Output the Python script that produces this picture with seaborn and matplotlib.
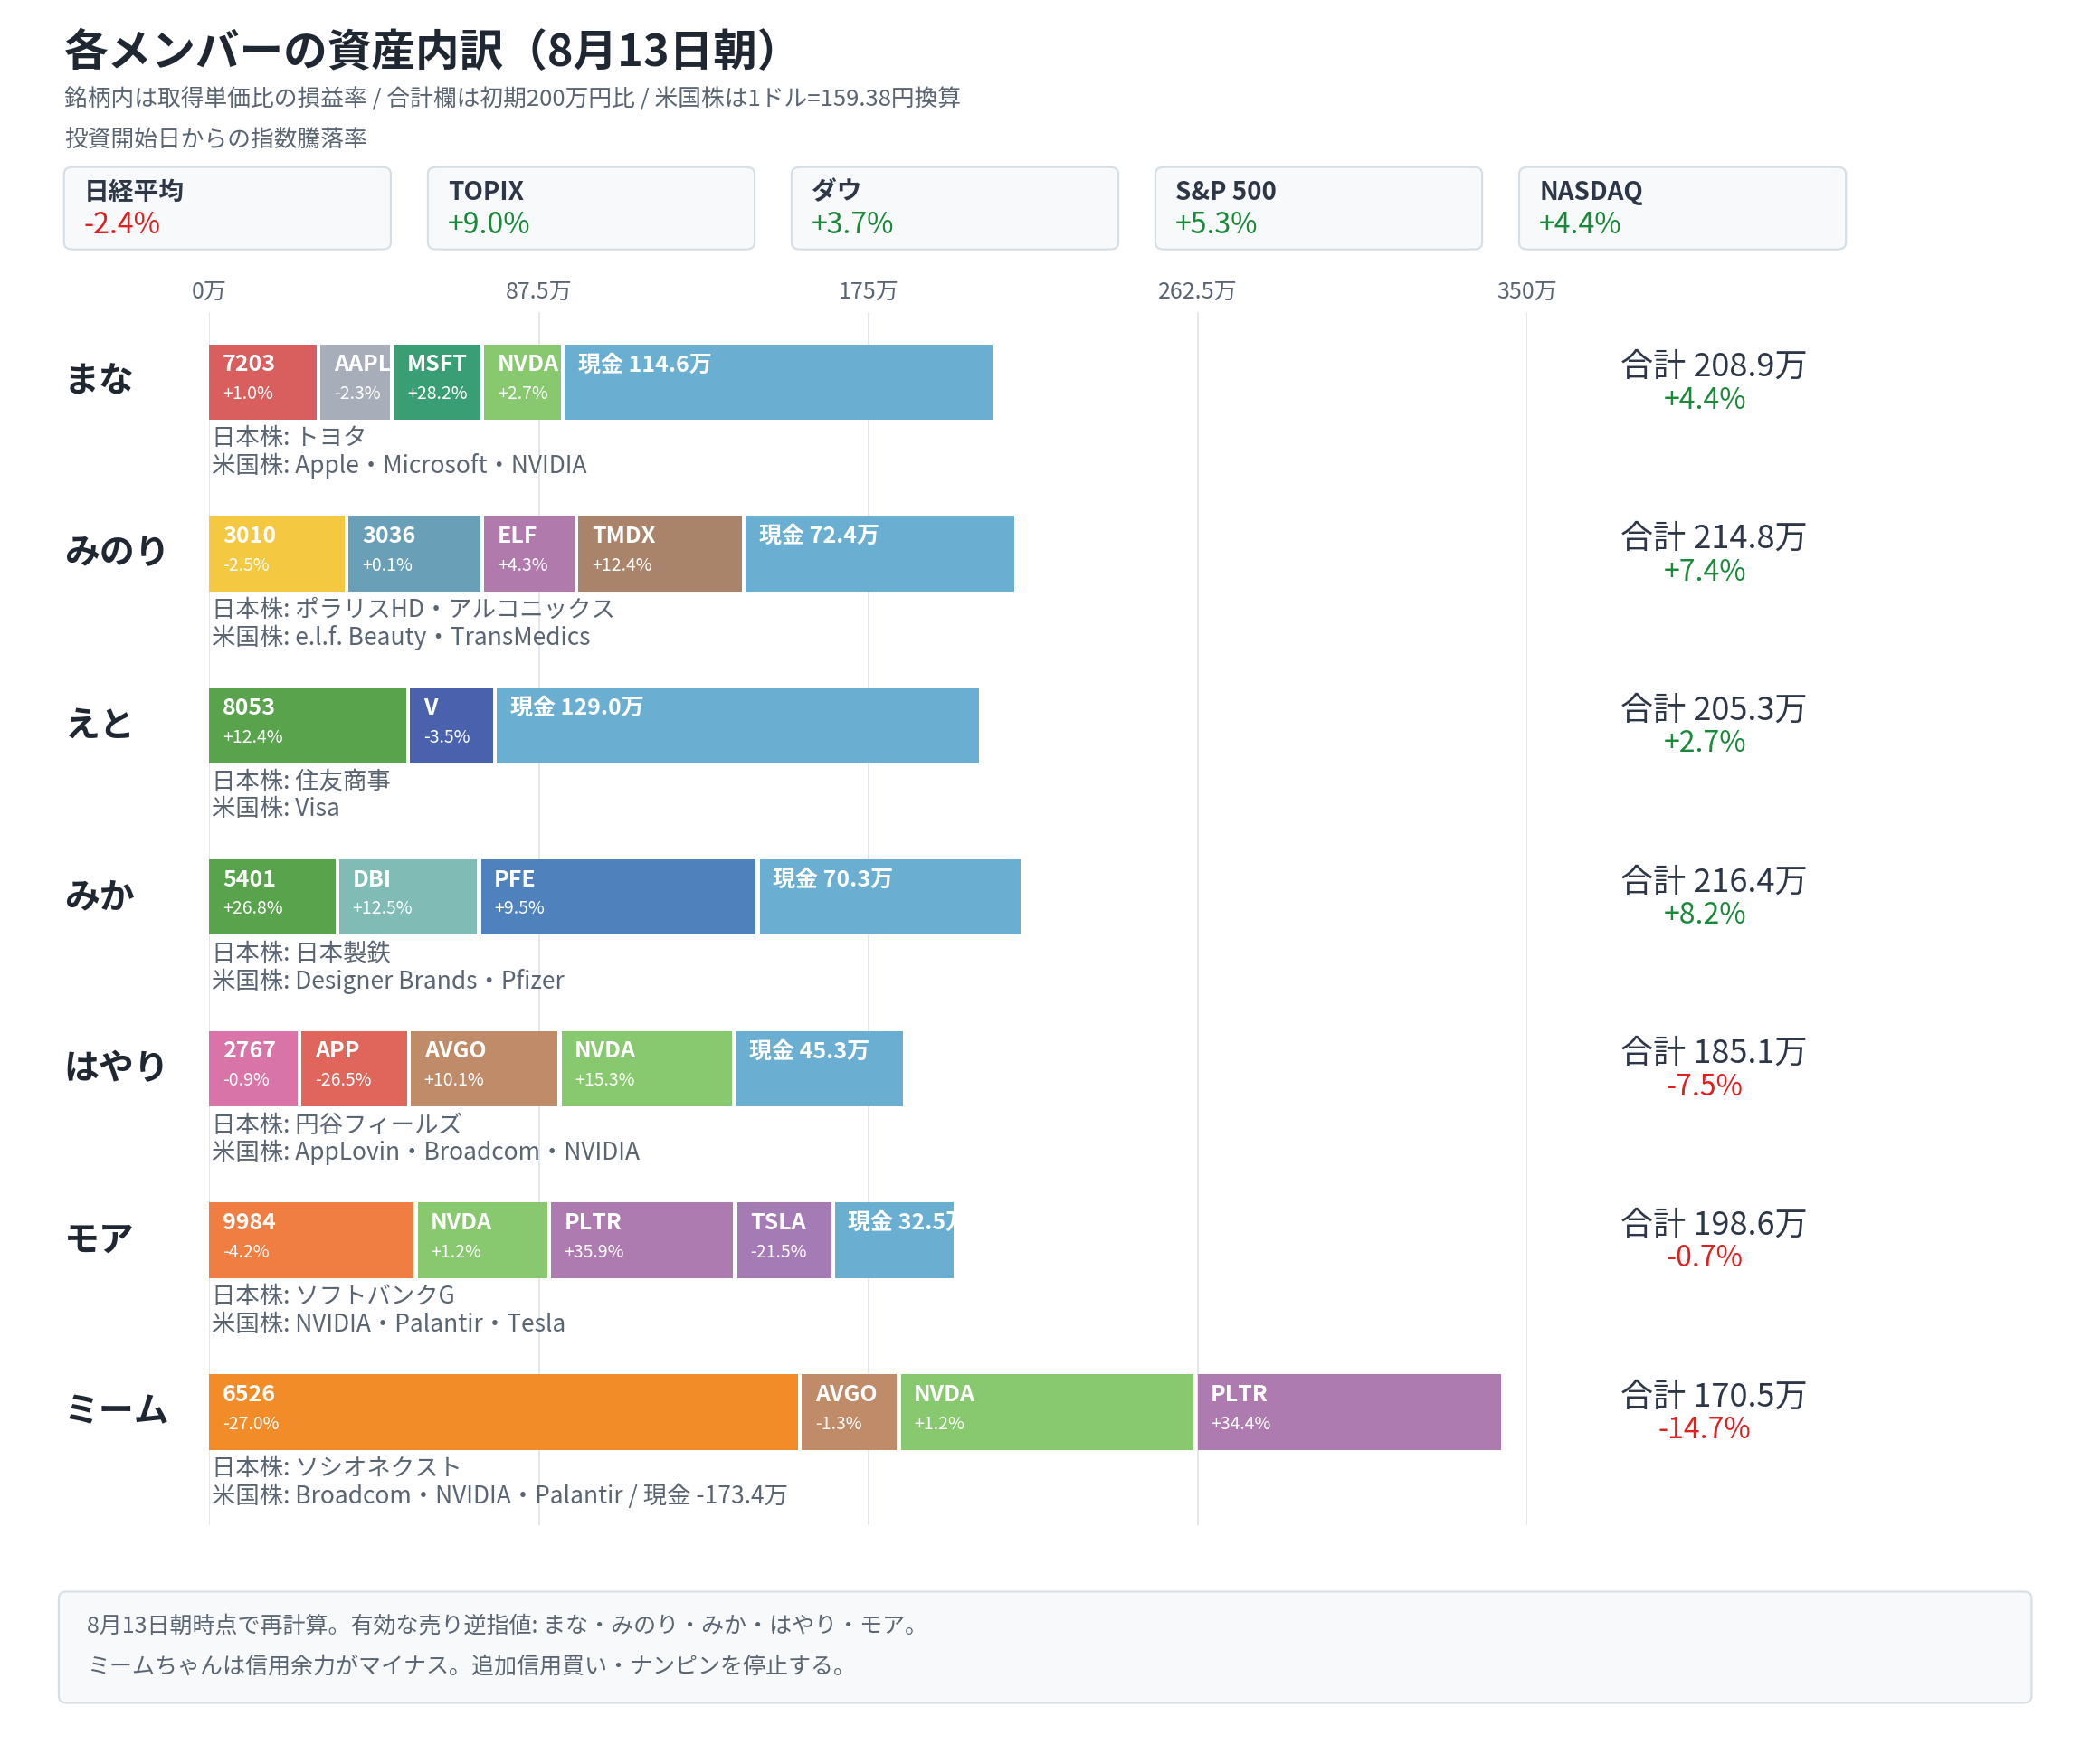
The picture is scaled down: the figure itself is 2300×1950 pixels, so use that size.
import matplotlib
matplotlib.use("Agg")
import matplotlib.pyplot as plt
import seaborn as sns
from matplotlib.patches import FancyBboxPatch

sns.set_theme(style="white")
plt.rcParams['font.family'] = ['Noto Sans CJK JP', 'DejaVu Sans']

# ---- data ----
members = ['まな', 'みのり', 'えと', 'みか', 'はやり', 'モア', 'ミーム']
tickers = [
    ['7203', 'AAPL', 'MSFT', 'NVDA'],
    ['3010', '3036', 'ELF', 'TMDX'],
    ['8053', 'V'],
    ['5401', 'DBI', 'PFE'],
    ['2767', 'APP', 'AVGO', 'NVDA'],
    ['9984', 'NVDA', 'PLTR', 'TSLA'],
    ['6526', 'AVGO', 'NVDA', 'PLTR'],
]
values = [
    [29.5, 19.5, 24.0, 21.3],
    [37.0, 36.0, 25.0, 44.4],
    [53.3, 23.0],
    [34.5, 37.6, 74.0],
    [24.5, 29.0, 40.0, 46.3],
    [55.3, 35.4, 49.4, 26.0],
    [157.3, 26.3, 78.8, 81.5],
]
pcts = [
    ['+1.0%', '-2.3%', '+28.2%', '+2.7%'],
    ['-2.5%', '+0.1%', '+4.3%', '+12.4%'],
    ['+12.4%', '-3.5%'],
    ['+26.8%', '+12.5%', '+9.5%'],
    ['-0.9%', '-26.5%', '+10.1%', '+15.3%'],
    ['-4.2%', '+1.2%', '+35.9%', '-21.5%'],
    ['-27.0%', '-1.3%', '+1.2%', '+34.4%'],
]
cash = [114.6, 72.4, 129.0, 70.3, 45.3, 32.5, -173.4]
totals = [208.9, 214.8, 205.3, 216.4, 185.1, 198.6, 170.5]
total_pct = ['+4.4%', '+7.4%', '+2.7%', '+8.2%', '-7.5%', '-0.7%', '-14.7%']
jp_names = ['トヨタ', 'ポラリスHD・アルコニックス', '住友商事', '日本製鉄', '円谷フィールズ',
            'ソフトバンクG', 'ソシオネクスト']
us_names = ['Apple・Microsoft・NVIDIA', 'e.l.f. Beauty・TransMedics', 'Visa',
            'Designer Brands・Pfizer', 'AppLovin・Broadcom・NVIDIA',
            'NVIDIA・Palantir・Tesla', 'Broadcom・NVIDIA・Palantir / 現金 -173.4万']
index_names = ['日経平均', 'TOPIX', 'ダウ', 'S&P 500', 'NASDAQ']
index_pcts = ['-2.4%', '+9.0%', '+3.7%', '+5.3%', '+4.4%']
xticks = [0, 87.5, 175, 262.5, 350]
xtick_labels = ['0万', '87.5万', '175万', '262.5万', '350万']

colors = {
    '7203': '#d95f5f', 'AAPL': '#a8aeb9', 'MSFT': '#3a9e74', 'NVDA': '#88c96f',
    '3010': '#f5c842', '3036': '#6a9fb8', 'ELF': '#b07aad', 'TMDX': '#a9846a',
    '8053': '#58a34b', 'V': '#4a62ad', '5401': '#58a34b', 'DBI': '#80bcb5',
    'PFE': '#4f82bd', '2767': '#d874a8', 'APP': '#e0655a', 'AVGO': '#bf8b68',
    'PLTR': '#ad7bb0', 'TSLA': '#a57bb5', '9984': '#f07d42', '6526': '#f28c28',
}
CASH_COLOR = '#6aafd1'
GREEN = '#1a8a3a'
RED = '#e02020'
DARK = '#2d3748'
GREY = '#5a6573'

W, H = 1560, 1330
fx = lambda px: px / W
fy = lambda py: 1 - py / H

fig = plt.figure(figsize=(23, 19.5), dpi=100)

fig.text(fx(48), fy(40), '各メンバーの資産内訳（8月13日朝）', fontsize=35, weight='bold',
         color='#1f2733', va='center')
fig.text(fx(48), fy(75), '銘柄内は取得単価比の損益率 / 合計欄は初期200万円比 / 米国株は1ドル=159.38円換算',
         fontsize=18.5, color=GREY, va='center')
fig.text(fx(48), fy(106), '投資開始日からの指数騰落率', fontsize=18.5, color=GREY, va='center')

for i, (nm, pc) in enumerate(zip(index_names, index_pcts)):
    x0 = 48 + i * 272.7
    box = FancyBboxPatch((fx(x0), fy(188)), fx(245), fy(126) - fy(188),
                         boxstyle='round,pad=0,rounding_size=0.004', transform=fig.transFigure,
                         facecolor='#f7f9fb', edgecolor='#d5dde5', lw=1.5)
    fig.patches.append(box)
    fig.text(fx(x0 + 15), fy(145), nm, fontsize=20, weight='bold', color=DARK, va='center')
    fig.text(fx(x0 + 15), fy(170), pc, fontsize=23, color=GREEN if pc.startswith('+') else RED,
             va='center')

ax = fig.add_axes([fx(157), fy(1150), fx(1145) - fx(157), fy(235) - fy(1150)])
ax.set_xlim(0, 350)
ax.set_ylim(6.66, -0.41)
for s in ax.spines.values():
    s.set_visible(False)
ax.set_yticks([])
ax.set_xticks(xticks)
ax.set_xticklabels(xtick_labels, fontsize=18, color=GREY)
ax.xaxis.tick_top()
ax.tick_params(axis='x', length=0, pad=6)
ax.grid(axis='x', color='#dde3ea', lw=1.2)
ax.set_axisbelow(True)

gap = 1.0
bh = 0.44
for r in range(len(members)):
    segs = list(zip(tickers[r], values[r], pcts[r]))
    if cash[r] > 0:
        segs.append(('現金 %.1f万' % cash[r], cash[r], None))
    left = 0
    for name, v, pc in segs:
        col = colors.get(name, CASH_COLOR)
        bars = ax.barh(r, v - gap, left=left, height=bh, color=col, edgecolor='none')
        bar = bars[0]
        t = ax.text(left + 3.5, r - 0.1, name, color='white', weight='bold', fontsize=18,
                    va='center', ha='left')
        t.set_clip_path(bar)
        if pc is not None:
            t2 = ax.text(left + 3.5, r + 0.07, pc, color='white', fontsize=14, va='center')
            t2.set_clip_path(bar)
        left += v
    ax.text(0.5, r + 0.33, '日本株: ' + jp_names[r], fontsize=19, color=GREY, va='center')
    ax.text(0.5, r + 0.49, '米国株: ' + us_names[r], fontsize=19, color=GREY, va='center')

    py = 288 + r * 129.4
    fig.text(fx(48), fy(py), members[r], fontsize=28, weight='bold', color='#1f2733', va='center')
    fig.text(fx(1285), fy(py - 11), '合計 %.1f万' % totals[r], fontsize=26, color=DARK,
             va='center', ha='center')
    fig.text(fx(1278), fy(py + 14), total_pct[r], fontsize=23,
             color=GREEN if total_pct[r].startswith('+') else RED, va='center', ha='center')

foot = FancyBboxPatch((fx(44), fy(1284)), fx(1523 - 44), fy(1200) - fy(1284),
                      boxstyle='round,pad=0,rounding_size=0.004', transform=fig.transFigure,
                      facecolor='#f7f9fb', edgecolor='#d5dde5', lw=1.5)
fig.patches.append(foot)
fig.text(fx(65), fy(1226), '8月13日朝時点で再計算。有効な売り逆指値: まな・みのり・みか・はやり・モア。',
         fontsize=18, color=GREY, va='center')
fig.text(fx(65), fy(1257), 'ミームちゃんは信用余力がマイナス。追加信用買い・ナンピンを停止する。',
         fontsize=18, color=GREY, va='center')

fig.savefig('out.png', dpi=100, facecolor='white')
